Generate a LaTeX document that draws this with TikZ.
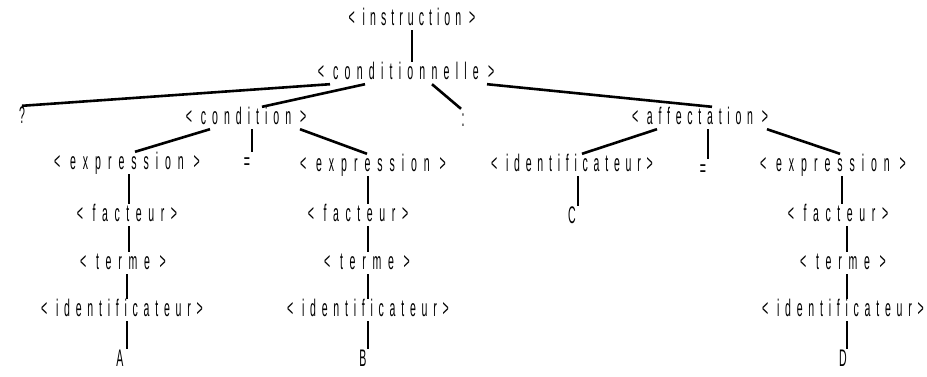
\documentclass[tikz,border=0pt]{standalone}
\usepackage{fontspec}
\setmainfont[FakeStretch=0.44]{Liberation Sans}
\begin{document}
\begin{tikzpicture}[x=1pt,y=-1pt,
  lbl/.style={font=\fontsize{24}{26}\selectfont\addfontfeature{LetterSpace=#1}, inner sep=0.5pt, text height=17pt, text depth=4pt},
  lbl/.default=22,
  edge/.style={line width=2.6pt}]
\useasboundingbox (0,0) rectangle (927,376);
\node[lbl=21] (instr) at (412,19) {< instruction >};
\node[lbl=26] (cn) at (406,73) {< conditionnelle >};
\node[lbl] (q) at (22,117) {?};
\node[lbl=25] (cond) at (246,118) {< condition >};
\node[lbl] (colon) at (463,120) {:};
\node[lbl=24] (aff) at (700,118) {< affectation >};
\node[lbl=29] (expL) at (127,163) {< expression >};
\node[lbl] (eqA) at (247,163) {=};
\node[lbl=29] (expR) at (373,165) {< expression >};
\node[lbl=27.5] (facL) at (127,215) {< facteur>};
\node[lbl=28] (termeL) at (123,263) {< terme >};
\node[lbl=24] (idL) at (122,310) {< identificateur>};
\node[lbl] (A) at (120,360) {A};
\node[lbl=27.5] (facR) at (358,215) {< facteur>};
\node[lbl=28] (termeR) at (367,263) {< terme >};
\node[lbl=24] (idR) at (368,310) {< identificateur>};
\node[lbl] (B) at (363,360) {B};
\node[lbl=24] (idC) at (572,165) {< identificateur>};
\node[lbl] (C) at (572,217) {C};
\node[lbl] (eqB) at (703,170) {=};
\node[lbl=29] (expD) at (833,165) {< expression >};
\node[lbl=27.5] (facD) at (838,215) {< facteur>};
\node[lbl=28] (termeD) at (843,263) {< terme >};
\node[lbl=24] (idD) at (843,310) {< identificateur>};
\node[lbl] (D) at (843,360) {D};
\begin{scope}[edge]
\draw ([xshift=0]instr.south) -- ([xshift=0]instr.south |- cn.north);
\draw ([xshift=-76]cn.south) -- (q.north);
\draw ([xshift=-41]cn.south) -- ([xshift=16]cond.north);
\draw ([xshift=26]cn.south) -- ([xshift=-2]colon.north);
\draw ([xshift=81]cn.south) -- ([xshift=12]aff.north);
\draw ([xshift=-36]cond.south) -- ([xshift=8]expL.north);
\draw ([xshift=6]cond.south) -- ([xshift=6]cond.south |- eqA.north);
\draw ([xshift=54]cond.south) -- ([xshift=-6]expR.north);
\draw ([xshift=2]expL.south) -- ([xshift=2]expL.south |- facL.north);
\draw ([xshift=2]facL.south) -- ([xshift=2]facL.south |- termeL.north);
\draw ([xshift=4]termeL.south) -- ([xshift=4]termeL.south |- idL.north);
\draw ([xshift=5]idL.south) -- ([xshift=5]idL.south |- A.north);
\draw ([xshift=-5]expR.south) -- ([xshift=-5]expR.south |- facR.north);
\draw ([xshift=10]facR.south) -- ([xshift=10]facR.south |- termeR.north);
\draw ([xshift=1]termeR.south) -- ([xshift=1]termeR.south |- idR.north);
\draw ([xshift=0]idR.south) -- ([xshift=0]idR.south |- B.north);
\draw ([xshift=-43]aff.south) -- ([xshift=10]idC.north);
\draw ([xshift=8]aff.south) -- ([xshift=8]aff.south |- eqB.north);
\draw ([xshift=67]aff.south) -- ([xshift=7]expD.north);
\draw ([xshift=6]idC.south) -- ([xshift=6]idC.south |- C.north);
\draw ([xshift=9]expD.south) -- ([xshift=9]expD.south |- facD.north);
\draw ([xshift=9]facD.south) -- ([xshift=9]facD.south |- termeD.north);
\draw ([xshift=4]termeD.south) -- ([xshift=4]termeD.south |- idD.north);
\draw ([xshift=4]idD.south) -- ([xshift=4]idD.south |- D.north);
\end{scope}
\end{tikzpicture}
\end{document}
